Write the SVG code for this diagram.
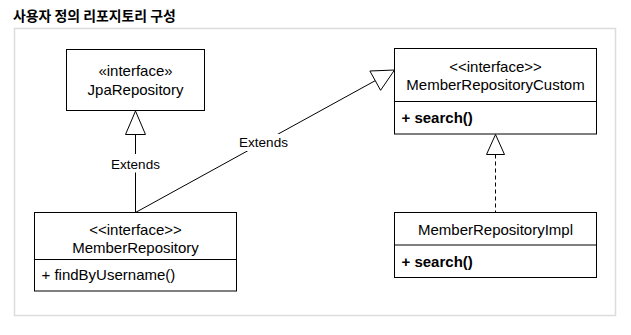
<svg xmlns="http://www.w3.org/2000/svg" width="631" height="335" viewBox="0 0 631 335">
<style>
.box{fill:#fff;stroke:#000;stroke-width:1}
.t{font-family:"Liberation Sans",Arial,sans-serif;font-size:15px;fill:#000}
.c{text-anchor:middle}
.b{font-weight:bold}
.lbl{font-family:"Liberation Sans",Arial,sans-serif;font-size:13.5px;fill:#000;text-anchor:middle}
.ln{stroke:#000;stroke-width:1;fill:none}
.tri{fill:#fff;stroke:#000;stroke-width:1}
.bg{fill:#fff}
</style>
<rect x="0" y="0" width="631" height="335" fill="#fff"/>
<text x="13" y="20.5" style="font-family:'Noto Sans CJK KR','Noto Sans',sans-serif;font-size:13.9px;font-weight:bold;fill:#000">사용자 정의 리포지토리 구성</text>
<rect x="14.5" y="28.5" width="601" height="287" fill="#fff" stroke="#dcdcdc" stroke-width="1.5"/>
<g id="connectors">
<line class="ln" x1="135.5" y1="212.5" x2="135.5" y2="134.5"/>
<polygon class="tri" points="135.5,111 125.5,134.5 145.5,134.5"/>
<rect class="bg" x="108" y="154" width="55" height="18.5"/>
<text class="lbl" x="135.5" y="169">Extends</text>
<line class="ln" x1="135.5" y1="212.5" x2="375.25" y2="80.65"/>
<polygon class="tri" points="394.5,70 369.9,71 380.6,90.3"/>
<rect class="bg" x="238" y="134" width="52" height="17"/>
<text class="lbl" x="263.5" y="146.5">Extends</text>
<line class="ln" x1="495.5" y1="154.5" x2="495.5" y2="212.5" stroke-dasharray="4 3"/>
<polygon class="tri" points="495.5,134.5 486.5,154.5 504.5,154.5"/>
</g>
<g id="JpaRepository">
<rect class="box" x="66.5" y="49.5" width="138" height="61"/>
<text class="t c" x="135.5" y="76">«interface»</text>
<text class="t c" x="135.5" y="94.5">JpaRepository</text>
</g>
<g id="MemberRepository">
<rect class="box" x="34.5" y="212.5" width="202" height="78.5"/>
<line class="ln" x1="34.5" y1="259.5" x2="236.5" y2="259.5"/>
<text class="t c" x="135.5" y="235">&lt;&lt;interface&gt;&gt;</text>
<text class="t c" x="135.5" y="253">MemberRepository</text>
<text class="t" x="41.5" y="279.5">+ findByUsername()</text>
</g>
<g id="MemberRepositoryCustom">
<rect class="box" x="394.5" y="48.5" width="202" height="85.5"/>
<line class="ln" x1="394.5" y1="101.5" x2="596.5" y2="101.5"/>
<text class="t c" x="495.5" y="71.5">&lt;&lt;interface&gt;&gt;</text>
<text class="t c" x="495.5" y="90">MemberRepositoryCustom</text>
<text class="t b" x="401.5" y="123">+ search()</text>
</g>
<g id="MemberRepositoryImpl">
<rect class="box" x="394.5" y="212.5" width="202" height="65"/>
<line class="ln" x1="394.5" y1="245" x2="596.5" y2="245"/>
<text class="t c" x="495.5" y="235">MemberRepositoryImpl</text>
<text class="t b" x="401.5" y="266.5">+ search()</text>
</g>
</svg>
